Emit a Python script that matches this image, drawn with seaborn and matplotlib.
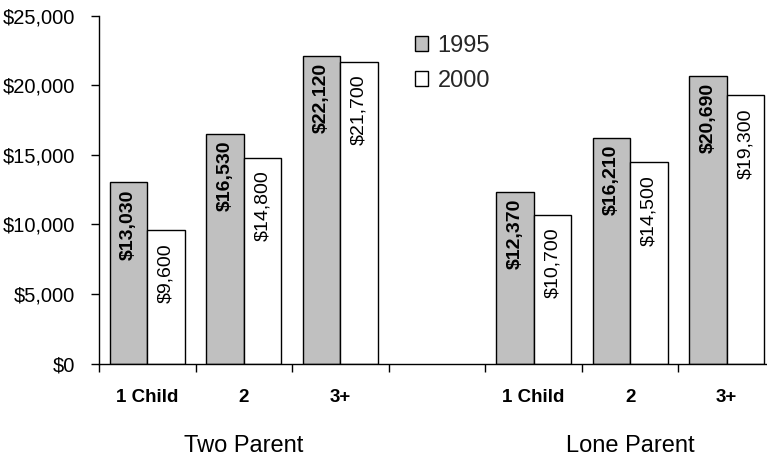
import matplotlib
matplotlib.use("Agg")
import matplotlib.pyplot as plt
import matplotlib.transforms as mtransforms
from matplotlib.ticker import FuncFormatter, FixedLocator, NullFormatter
import pandas as pd
import seaborn as sns

# Average annual cost per household, by number of children
groups = ["Two Parent", "Lone Parent"]
children = ["1 Child", "2", "3+"]
years = ["1995", "2000"]
two_parent_1995 = [13030, 16530, 22120]
two_parent_2000 = [9600, 14800, 21700]
lone_parent_1995 = [12370, 16210, 20690]
lone_parent_2000 = [10700, 14500, 19300]
y_ticks = [0, 5000, 10000, 15000, 20000, 25000]

# slot positions: three per family type, with an empty slot between the groups
slots = [0, 1, 2, 4, 5, 6]
rows = []
series = {
    "1995": two_parent_1995 + lone_parent_1995,
    "2000": two_parent_2000 + lone_parent_2000,
}
for yr in years:
    for pos, val in zip(slots, series[yr]):
        rows.append({"slot": pos, "year": yr, "value": val})
df = pd.DataFrame(rows)

sns.set_theme(style="white")
plt.rcParams["font.family"] = ["Liberation Sans", "DejaVu Sans"]

W, H = 767, 457
fig = plt.figure(figsize=(W / 100, H / 100), dpi=100)
ax = fig.add_axes([99 / W, (H - 363.7) / H, (775 - 99) / W, 348 / H])

palette = {"1995": "#C0C0C0", "2000": "#FFFFFF"}
sns.barplot(data=df, x="slot", y="value", hue="year", hue_order=years,
            palette=palette, native_scale=True, width=0.775, gap=0,
            edgecolor="black", linewidth=1.0, legend=False, ax=ax,
            saturation=1)

ax.set_xlim(-0.5, 6.5)
ax.set_ylim(0, 25000)
ax.set_xlabel("")
ax.set_ylabel("")

for side in ["top", "right"]:
    ax.spines[side].set_visible(False)
for side in ["left", "bottom"]:
    ax.spines[side].set_color("black")
    ax.spines[side].set_linewidth(1.0)

# y axis
ax.yaxis.set_major_locator(FixedLocator(y_ticks))
ax.yaxis.set_major_formatter(FuncFormatter(lambda v, p: f"${int(v):,}"))
ax.tick_params(axis="y", which="major", left=True, length=6, width=1,
               color="black", labelsize=14.5, pad=11, labelcolor="black")

# x axis: marks between slots, labels at slot centres
ax.xaxis.set_major_locator(FixedLocator([-0.5 + i for i in range(8)]))
ax.xaxis.set_major_formatter(NullFormatter())
ax.xaxis.set_minor_locator(FixedLocator(slots))
ax.set_xticklabels(children + children, minor=True)
ax.tick_params(axis="x", which="major", bottom=True, length=6, width=1,
               color="black")
ax.tick_params(axis="x", which="minor", bottom=True, length=0, labelsize=13.5,
               pad=18, labelcolor="black")
for lbl in ax.get_xticklabels(minor=True):
    lbl.set_fontweight("bold")

# value labels, rotated inside the top of each bar
offsets = {"1995": 7, "2000": 13}
weights = {"1995": "bold", "2000": "normal"}
for yr, container in zip(years, ax.containers):
    trans = mtransforms.offset_copy(ax.transData, fig=fig, x=0,
                                    y=-offsets[yr], units="dots")
    for bar, val in zip(container, series[yr]):
        cx = bar.get_x() + bar.get_width() / 2
        ax.text(cx, val, f"${val:,}", rotation=90, ha="center", va="top",
                fontsize=14, fontweight=weights[yr], color="black",
                transform=trans)

# family type labels
blend = mtransforms.blended_transform_factory(ax.transData, fig.transFigure)
for name, centre in zip(groups, [1, 5]):
    ax.text(centre, 1 - 446.5 / H, name, ha="center", va="center",
            fontsize=17, color="black", transform=blend)

# legend
handles = [plt.Rectangle((0, 0), 1, 1, facecolor=palette[yr],
                         edgecolor="black", linewidth=1.0) for yr in years]
fig.legend(handles, years, loc="upper left",
           bbox_to_anchor=(406 / W, 1 - 25.5 / H), frameon=False,
           fontsize=17, handlelength=0.55, handleheight=0.55,
           handletextpad=0.38, labelspacing=0.55, borderaxespad=0)

fig.savefig("out.png", dpi=100)
